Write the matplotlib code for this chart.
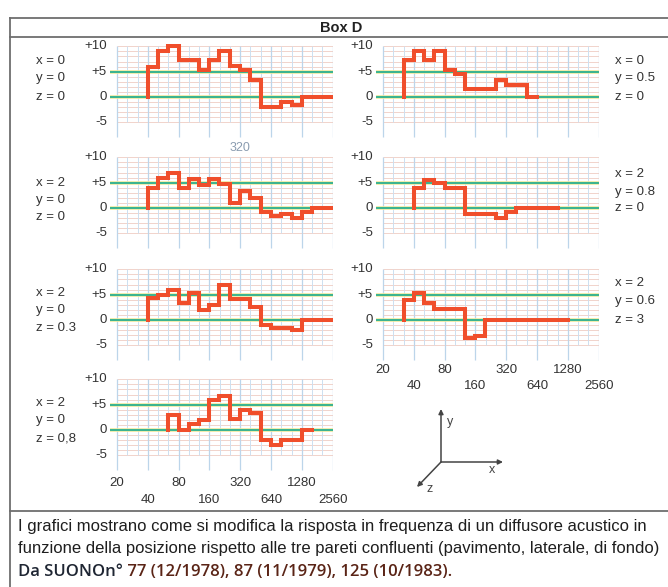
import numpy as np
import matplotlib.pyplot as plt

plt.rcParams['font.family'] = ['Liberation Sans', 'DejaVu Sans']

# --- data: third-octave band edges (Hz) and response level (dB) of each band ---
edges_a = [40, 50, 63, 80, 127, 160, 200, 254, 320, 403, 508, 806, 1016, 1280, 2560]
level_a = [6, 9, 10, 7.2, 5.3, 7.2, 9, 6.2, 5.3, 3.3, -2, -1, -1.5, 0]

edges_b = [32, 40, 50, 63, 80, 100, 127, 254, 320, 508, 640]
level_b = [7.3, 9, 7.3, 9, 5.3, 4.6, 1.6, 3.3, 2.3, 0]

edges_c = [40, 50, 63, 80, 100, 127, 160, 200, 254, 320, 403, 508, 640, 806, 1016, 1280, 1613, 2560]
level_c = [3.9, 5.9, 7, 4, 5.8, 4.6, 5.8, 4.8, 1, 3.3, 2, -0.8, -1.6, -1.1, -2, -0.8, 0]

edges_d = [40, 50, 63, 80, 127, 254, 320, 403, 1016]
level_d = [4, 5.6, 5, 4, -1.1, -2, -0.7, 0]

edges_e = [40, 50, 63, 80, 100, 127, 160, 200, 254, 403, 508, 640, 1016, 1280, 2560]
level_e = [4.4, 5, 6, 3.4, 5.4, 2, 3, 6.9, 4.2, 2.6, -1, -1.5, -2, 0]

edges_f = [32, 40, 50, 63, 127, 160, 200, 1280]
level_f = [4, 5.4, 3.4, 2.2, -3.6, -3.1, 0]

edges_g = [63, 80, 100, 127, 160, 200, 254, 320, 403, 508, 640, 806, 1280, 1613]
level_g = [3, 0, 1.1, 2, 5.9, 6.8, 2.1, 4, 3.3, -2, -3, -2, 0]

pos_a = ['x = 0', 'y = 0', 'z = 0']
pos_b = ['x = 0', 'y = 0.5', 'z = 0']
pos_c = ['x = 2', 'y = 0', 'z = 0']
pos_d = ['x = 2', 'y = 0.8', 'z = 0']
pos_e = ['x = 2', 'y = 0', 'z = 0.3']
pos_f = ['x = 2', 'y = 0.6', 'z = 3']
pos_g = ['x = 2', 'y = 0', 'z = 0,8']

ytick_vals = [10, 5, 0, -5]
ytick_labels = ['+10', '+5', '0', '-5']
xtick_row1 = [20, 80, 320, 1280]
xtick_row2 = [40, 160, 640, 2560]

caption = ["I grafici mostrano come si modifica la risposta in frequenza di un diffusore acustico in",
           "funzione della posizione rispetto alle tre pareti confluenti (pavimento, laterale, di fondo)"]
source_a = "Da SUONOn\u00b0"
source_b = " 77 (12/1978), 87 (11/1979), 125 (10/1983)."

# --- layout (pixels) ---
W, H = 668, 587
PX_DB = 5.07      # pixels per dB
OCT_PX = 30.8     # pixels per octave
TXT = '#333333'
LINE = '#6e6e6e'

fig = plt.figure(figsize=(W / 100, H / 100), dpi=100)
fig.patch.set_facecolor('white')

# full-figure axes in pixel units for the frame, captions and labels
bg = fig.add_axes([0, 0, 1, 1])
bg.set_xlim(0, W)
bg.set_ylim(H, 0)
bg.axis('off')

bg.plot([10, 10], [18, H], color=LINE, lw=1.3)
bg.plot([10, W], [18, 18], color=LINE, lw=1.3)
bg.plot([10, W], [37, 37], color=LINE, lw=1.3)
bg.plot([10, W], [511, 511], color=LINE, lw=1.3)
bg.text(341, 27.5, 'Box D', ha='center', va='center', fontsize=10.5, fontweight='bold', color='#222')

thirds = 20 * 2 ** (np.arange(22) / 3)
octaves = thirds[::3]
minor = thirds[np.arange(22) % 3 != 0]
xmin = 20 * 2 ** (-7 / OCT_PX)


def panel(gx, y0, edges, levels, labels, label_x, label_dy):
    left = gx - 7
    right = gx + 7 * OCT_PX
    top = y0 - 10.4 * PX_DB
    bottom = y0 + 8.5 * PX_DB
    ax = fig.add_axes([left / W, 1 - bottom / H, (right - left) / W, (bottom - top) / H])
    ax.set_xscale('log', base=2)
    ax.set_xlim(xmin, 2560)
    ax.set_ylim(-8.5, 10.4)
    ax.axis('off')

    # grid
    ax.hlines(np.arange(-5, 11), 20, 2560, color='#f1d3cb', lw=0.7, zorder=1)
    ax.vlines(minor, -5, 10, color='#cde0f0', lw=0.7, zorder=1)
    ax.vlines(octaves, -7.8, 10, color='#bcd5ea', lw=0.9, zorder=1)
    ax.hlines([0, 5], xmin, 2560, color='#efe89c', lw=2.6, zorder=2)
    ax.hlines([0, 5], xmin, 2560, color='#1aaa8e', lw=1.2, zorder=3)

    xs = [edges[0]] + list(edges)
    ys = [0] + list(levels) + [levels[-1]]
    ax.step(xs, ys, where='post', color='#f04e2b', lw=2.9, zorder=5,
            solid_joinstyle='miter')

    for v, t in zip(ytick_vals, ytick_labels):
        bg.text(gx - 10, y0 - v * PX_DB, t, ha='right', va='center', fontsize=9.5, color=TXT)
    for i, t in enumerate(labels):
        bg.text(label_x, y0 - label_dy[i] * PX_DB, t, ha='left', va='center',
                fontsize=9.5, color=TXT)
    return ax


LX, RX = 117, 383
ax1 = panel(LX, 97, edges_a, level_a, pos_a, 36, [7.1, 3.7, 0])
ax2 = panel(RX, 97, edges_b, level_b, pos_b, 615, [7.1, 3.7, 0])
ax3 = panel(LX, 208, edges_c, level_c, pos_c, 36, [4.9, 1.6, -1.8])
ax4 = panel(RX, 208, edges_d, level_d, pos_d, 615, [6.7, 3.2, 0])
ax5 = panel(LX, 320, edges_e, level_e, pos_e, 36, [5.3, 2.0, -1.6])
ax6 = panel(RX, 320, edges_f, level_f, pos_f, 615, [7.3, 3.7, 0])
ax7 = panel(LX, 430, edges_g, level_g, pos_g, 36, [5.3, 2.0, -1.6])

# faint stray label between the first two rows
ax1.text(320, -10.1, '320', ha='center', va='center', fontsize=9, color='#8a9cb0')

# frequency labels under the bottom panels
for ax, d1, d2 in [(ax6, -9.9, -13.1), (ax7, -10.4, -13.8)]:
    for f in xtick_row1:
        ax.text(f, d1, str(f), ha='center', va='center', fontsize=9.5, color=TXT)
    for f in xtick_row2:
        ax.text(f, d2, str(f), ha='center', va='center', fontsize=9.5, color=TXT)

# axes orientation sketch
ox, oy = 441, 462
arrow = dict(arrowstyle='-|>', color='#444', lw=1.1, mutation_scale=7, shrinkA=0, shrinkB=0)
bg.annotate('', xy=(441, 409), xytext=(ox, oy), arrowprops=arrow)
bg.annotate('', xy=(503, 462), xytext=(ox, oy), arrowprops=arrow)
bg.annotate('', xy=(417, 487), xytext=(ox, oy), arrowprops=arrow)
bg.text(450, 422, 'y', ha='center', va='center', fontsize=9, color='#444')
bg.text(492, 470, 'x', ha='center', va='center', fontsize=9, color='#444')
bg.text(430, 489, 'z', ha='center', va='center', fontsize=9, color='#444')

# caption
bg.text(18, 527, caption[0], ha='left', va='center', fontsize=12, color='#1e1e1e')
bg.text(18, 549, caption[1], ha='left', va='center', fontsize=12, color='#1e1e1e')
t1 = bg.text(18, 580, source_a, ha='left', va='bottom', fontsize=12, color='#1f2633',
             family=['Open Sans', 'DejaVu Sans'], fontweight='semibold')
bg.annotate(source_b, xy=(1, 0), xycoords=t1, ha='left', va='bottom', fontsize=12,
            color='#5a2416', family=['Open Sans', 'DejaVu Sans'], fontweight='semibold')

fig.savefig('out.png', dpi=100)
